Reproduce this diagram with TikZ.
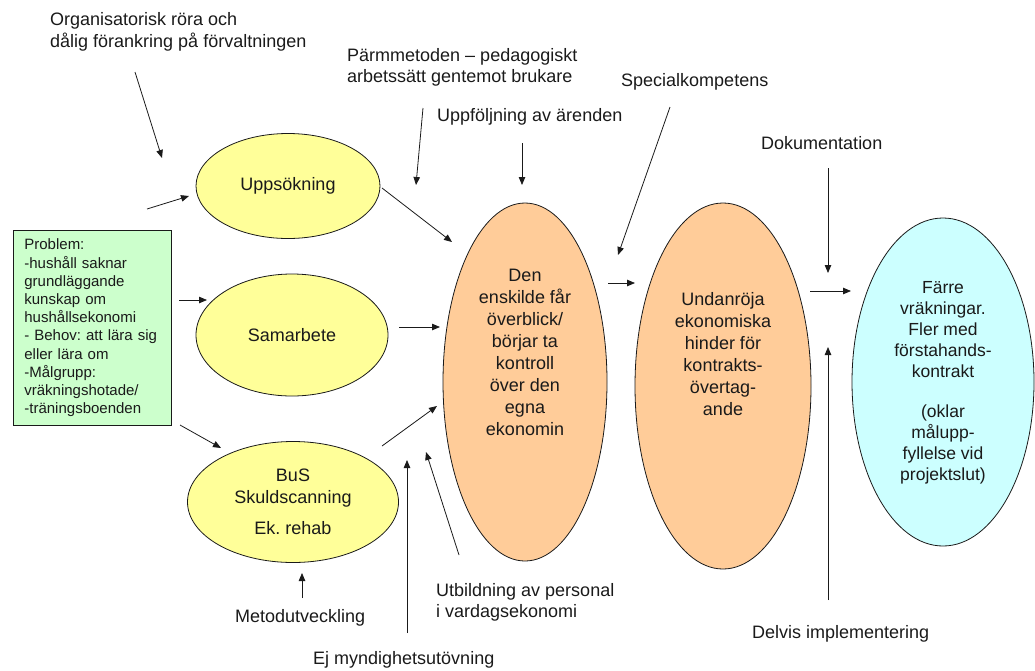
\documentclass[tikz,border=0pt]{standalone}
\usepackage{fontspec}
\setmainfont{Liberation Sans}
\usetikzlibrary{shapes.geometric,arrows.meta}
\definecolor{yel}{HTML}{FFFF99}
\definecolor{ora}{HTML}{FFCC99}
\definecolor{blu}{HTML}{CCFFFF}
\definecolor{grn}{HTML}{CCFFCC}
\definecolor{ink}{HTML}{1A1A1A}
\frenchspacing
\begin{document}
\begin{tikzpicture}[x=1pt,y=-1pt,
  every node/.style={font=\fontsize{18}{21.6}\selectfont, text=ink},
  ell/.style={ellipse, draw=ink, line width=0.8pt, inner sep=0pt, align=center},
  lbl/.style={align=left, inner sep=0pt, anchor=west},
  ctext/.style={align=center, inner sep=0pt, font=\fontsize{18}{22}\selectfont},
  probbox/.style={draw=ink, line width=0.8pt, fill=grn, anchor=north west, align=left,
    text width=136pt, minimum height=195pt, inner xsep=11pt,
    font=\fontsize{15}{18.2}\selectfont},
  arr/.style={draw=ink, line width=0.8pt, -{Triangle[length=8pt,width=6.5pt]}}]
\useasboundingbox (0,0) rectangle (1035,670);

% ellipses
\node[ell, fill=yel, minimum width=184pt, minimum height=105pt] (ups) at (288,186) {Uppsökning};
\node[ell, fill=yel, minimum width=192pt, minimum height=122pt] (sam) at (292,335) {Samarbete};
\node[ell, fill=yel, minimum width=211pt, minimum height=121pt] (bus) at (293,502) {BuS\\Skuldscanning\\[10pt]Ek. rehab};
\node[ell, fill=ora, minimum width=164pt, minimum height=358pt] (o1) at (525,382) {};
\node[ctext] (o1t) at (525,352) {Den\\enskilde får\\överblick/\\börjar ta\\kontroll\\över den\\egna\\ekonomin};
\node[ell, fill=ora, minimum width=176pt, minimum height=366pt] (o2) at (723,386) {};
\node[ctext] (o2t) at (723,354) {Undanröja\\ekonomiska\\hinder för\\kontrakts-\\övertag-\\ande};
\node[ell, fill=blu, minimum width=182pt, minimum height=328pt] (o3) at (943,382) {};
\node[ctext, font=\fontsize{17.5}{21}\selectfont] (o3t) at (943,383) {Färre\\vräkningar.\\Fler med\\förstahands-\\kontrakt\\[19pt](oklar\\målupp-\\fyllelse vid\\projektslut)};

% problem box
\node[probbox] (prob) at (13,230) {Problem:\\-hushåll saknar\\grundläggande\\kunskap om\\hushållsekonomi\\- Behov: att lära sig\\eller lära om\\-Målgrupp:\\vräkningshotade/\\-träningsboenden};

% labels
\node[lbl] (org) at (50,32) {Organisatorisk röra och\\dålig förankring på förvaltningen};
\node[lbl] (parm) at (347,67.5) {Pärmmetoden – pedagogiskt\\arbetssätt gentemot brukare};
\node[lbl] (uppf) at (437,117) {Uppföljning av ärenden};
\node[lbl] (spec) at (621,82) {Specialkompetens};
\node[lbl] (dok) at (761,143) {Dokumentation};
\node[lbl] (delv) at (752,634) {Delvis implementering};
\node[lbl] (metod) at (235,618) {Metodutveckling};
\node[lbl] (ej) at (313,660) {Ej myndighetsutövning};
\node[lbl] (utb) at (436,602.5) {Utbildning av personal\\i vardagsekonomi};

% connector end points
\coordinate (a1s) at (135,72);  \coordinate (a1e) at (162,158);
\coordinate (a2s) at (147,209); \coordinate (a2e) at (189,196);
\coordinate (a3s) at (179,300); \coordinate (a3e) at (207,300);
\coordinate (a4s) at (180,425); \coordinate (a4e) at (221,448);
\coordinate (a5s) at (382,188); \coordinate (a5e) at (452,242);
\coordinate (a6s) at (399,327); \coordinate (a6e) at (440,327);
\coordinate (a7s) at (382,446); \coordinate (a7e) at (437,406);
\coordinate (a8s) at (423,108); \coordinate (a8e) at (416,185);
\coordinate (a9s) at (522,143); \coordinate (a9e) at (522,185);
\coordinate (a10s) at (670,107); \coordinate (a10e) at (618,255);
\coordinate (a11s) at (608,283); \coordinate (a11e) at (635,283);
\coordinate (a12s) at (828,168); \coordinate (a12e) at (828,273);
\coordinate (a13s) at (810,291); \coordinate (a13e) at (851,291);
\coordinate (a14s) at (828,600); \coordinate (a14e) at (828,347);
\coordinate (a15s) at (302,598); \coordinate (a15e) at (302,573);
\coordinate (a16s) at (407,633); \coordinate (a16e) at (407,460);
\coordinate (a17s) at (459,555); \coordinate (a17e) at (426,452);

\foreach \i in {1,...,17} {\draw[arr] (a\i s) -- (a\i e);}
\end{tikzpicture}
\end{document}
